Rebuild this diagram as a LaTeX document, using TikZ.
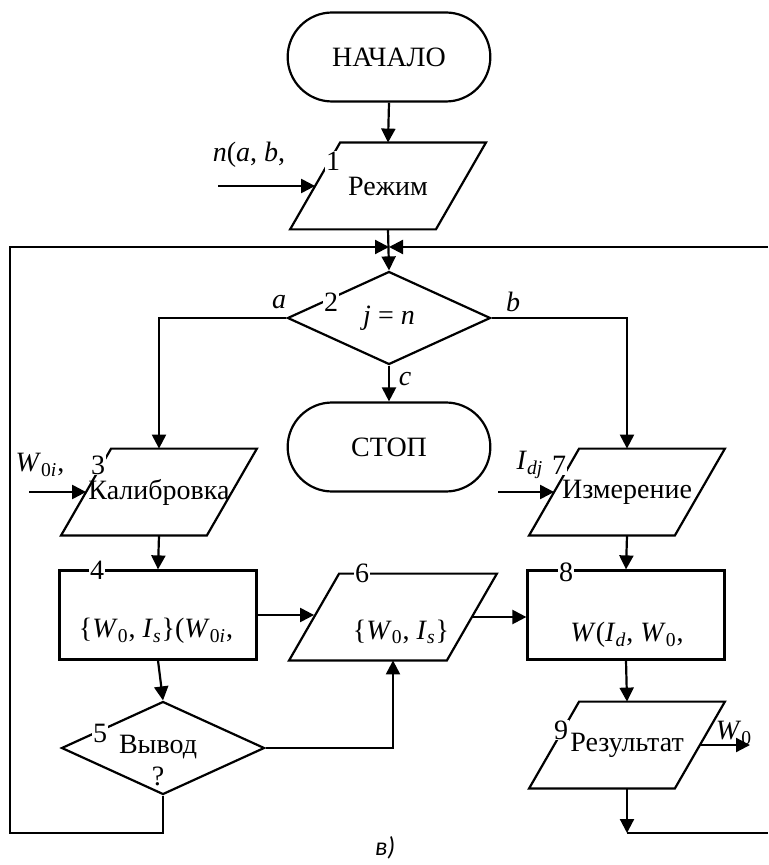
\documentclass[tikz,border=0pt]{standalone}
\usepackage{fontspec}
\setmainfont{Liberation Serif}
\newfontfamily\capfont{Carlito}
\usetikzlibrary{shapes.geometric,shapes.misc,arrows.meta}
\newcommand\vv[1]{\textit{#1}}
\newcommand\vs[2]{\textit{#1}\textsubscript{#2}}
% input/output block: slanted outline round a plain box
\newcommand\slantbox[1]{\draw[line] ([xshift=12.5pt]#1.north west) -- ([xshift=12.5pt]#1.north east)
  -- ([xshift=-12.5pt]#1.south east) -- ([xshift=-12.5pt]#1.south west) -- cycle;}
\tikzset{
  line/.style={line width=1.1pt},
  flow/.style={line width=1.1pt,-{Triangle[length=7pt,width=7pt]}},
  term/.style={rounded rectangle,draw,line width=1.1pt,minimum width=108pt,minimum height=44.5pt},
  io/.style={rectangle,minimum width=72.5pt,minimum height=43pt,inner sep=1pt},
  proc/.style={rectangle,draw,line width=1.1pt,minimum width=98.5pt,minimum height=44.5pt},
  test/.style={diamond,aspect=2.2,draw,line width=1.1pt,minimum width=101.5pt,minimum height=46.5pt,inner sep=0pt},
  num/.style={fill=white,inner sep=0.5pt},
  lbl/.style={inner sep=1pt}
}
\begin{document}
\begin{tikzpicture}[x=0.5pt,y=-0.5pt,font=\fontsize{14}{16}\selectfont]
\useasboundingbox (0,0) rectangle (768,865);
% blocks
\node[term] (start) at (389,57) {НАЧАЛО};
\node[io] (p1) at (388,186) {Режим};
\coordinate (jn) at (389,247);
\node[test] (d2) at (389,318) {\vv{j} = \vv{n}};
\node[term] (stop) at (389,447) {СТОП};
\node[io] (p3) at (159,492) {Калибровка};
\node[io] (p7) at (627,492) {Измерение};
\node[proc] (b4) at (158,615) {};
\node[io,minimum width=78.5pt] (p6) at (393,617) {};
\node[proc] (b8) at (626,615) {};
\node[test] (d5) at (163,748) {};
\node[io] (p9) at (627,745) {Результат};
\slantbox{p1}
\slantbox{p3}
\slantbox{p7}
\slantbox{p6}
\slantbox{p9}
% texts of the blocks
\node[lbl] (t4) at (156,631) {\{\vs{W}{0}, \vs{I}{\textit{s}}\}(\vs{W}{0\textit{i}},};
\node[lbl] (t6) at (401,632) {\{\vs{W}{0}, \vs{I}{\textit{s}}\}};
\node[lbl] (t8) at (627,635) {\vv{W}(\vs{I}{\textit{d}}, \vs{W}{0},};
\node[lbl,align=center] (t5) at (158,761) {Вывод\\?};
% block numbers
\node[num] (n1) at (333,161) {1};
\node[num] (n2) at (331,302) {2};
\node[num] (n3) at (98,465) {3};
\node[num] (n4) at (97,570) {4};
\node[num] (n5) at (100,733) {5};
\node[num] (n6) at (362,573) {6};
\node[num] (n7) at (559,465) {7};
\node[num] (n8) at (566,572) {8};
\node[num] (n9) at (561,730) {9};
% branch letters and data
\node[lbl] (la) at (279,302) {\vv{a}};
\node[lbl] (lb) at (513,302) {\vv{b}};
\node[lbl] (lc) at (405,379) {\vv{c}};
\node[lbl] (mode) at (249,155) {\vv{n}(\vv{a}, \vv{b},};
\node[lbl] (w0i) at (40,465) {\vs{W}{0\textit{i}},};
\node[lbl] (idj) at (530,465) {\vs{I}{\textit{dj}}};
\node[lbl] (w0) at (734,733) {\vs{W}{0}};
\node (cap) at (385,848) {\capfont\itshape\fontsize{13}{15}\selectfont в)};
% free ends
\coordinate (in1) at (218,186);
\coordinate (in3) at (29,492);
\coordinate (in7) at (498,492);
\coordinate (out9) at (750,745);
\coordinate (lt) at (10,247);
\coordinate (lbot) at (10,833);
\coordinate (rt) at (768,247);
\coordinate (rbot) at (768,833);
% connectors
\draw[flow] (start.south) -- (p1.north);
\draw[flow] (in1) -- (p1.west);
\draw[flow] (p1.south) -- (d2.north);
\draw[flow] (d2.west) -| (p3.north);
\draw[flow] (d2.east) -| (p7.north);
\draw[flow] (d2.south) -- (stop.north);
\draw[flow] (in3) -- (p3.west);
\draw[flow] (in7) -- (p7.west);
\draw[flow] (p3.south) -- (b4.north);
\draw[flow] (p7.south) -- (b8.north);
\draw[flow] (b4.east) -- (b4.east -| p6.west);
\draw[flow] (p6.east) -- (p6.east -| b8.west);
\draw[flow] (b4.south) -- (d5.north);
\draw[flow] (d5.east) -| (p6.south);
\draw[flow] (b8.south) -- (p9.north);
\draw[flow] (p9.east) -- (out9);
\draw[flow] (p9.south) -- (p9.south |- rbot);
\draw[line] (p9.south |- rbot) -- (rbot);
\draw[flow] (d5.south) |- (lbot) -- (lt) -- (jn);
\draw[flow] (rt) -- (jn);
\end{tikzpicture}
\end{document}
